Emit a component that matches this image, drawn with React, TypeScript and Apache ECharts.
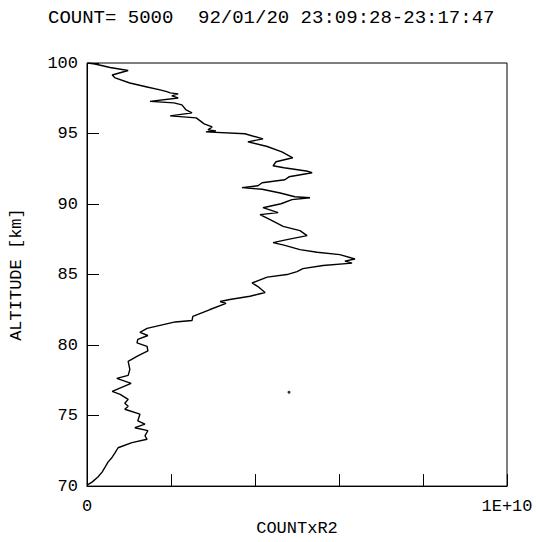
import React, { useEffect, useRef } from "react";
import * as echarts from "echarts";

// COUNT x R^2 in units of 1E9 (top to bottom)
const countR2E9: number[] = [
  0.02, 0.19, 0.55, 0.98, 0.6, 0.67, 1.02, 1.43, 1.74, 1.9, 1.98, 2.17, 2.02, 2.17, 1.5, 2.07, 2.26, 2.36, 2.5, 1.98,
  2.6, 2.79, 2.98, 2.88, 3.07, 2.83, 3.76, 4.19, 3.83, 4.29, 4.64, 4.9, 4.5, 4.43, 4.69, 5.26, 5.36, 4.81, 4.71, 4.17,
  4.07, 3.69, 4.17, 4.6, 4.95, 5.31, 4.88, 4.62, 4.19, 4.55, 4.12, 4.36, 4.67, 5.07, 5.24, 4.76, 4.43, 4.69, 5.07, 5.48,
  6.02, 6.38, 6.14, 6.31, 5.62, 5.14, 5.0, 4.76, 4.29, 3.93, 4.07, 4.24, 3.88, 3.4, 3.17, 3.31, 2.93, 2.52, 2.5, 2.1,
  1.43, 1.26, 1.45, 1.21, 1.19, 1.43, 1.45, 1.21, 0.98, 1.02, 0.98, 0.71, 1.05, 0.6, 0.79, 0.98, 0.9, 0.98, 0.9, 1.26,
  1.21, 1.38, 1.14, 1.45, 1.38, 1.43, 1.07, 0.74, 0.67, 0.6, 0.5, 0.43, 0.36, 0.26, 0.12, 0.0,
];
const altitudeKm: number[] = [
  100.0, 99.93, 99.68, 99.47, 99.15, 98.94, 98.58, 98.3, 98.09, 97.97, 97.88, 97.81, 97.67, 97.52, 97.28, 97.17, 97.03,
  96.67, 96.46, 96.25, 96.11, 95.68, 95.47, 95.26, 95.19, 95.12, 94.98, 94.62, 94.41, 94.08, 93.7, 93.28, 93.0, 92.71,
  92.57, 92.32, 92.22, 91.93, 91.72, 91.51, 91.3, 91.16, 91.05, 90.78, 90.52, 90.45, 90.31, 90.02, 89.74, 89.39, 89.25,
  88.89, 88.42, 88.11, 87.76, 87.48, 87.26, 87.09, 86.77, 86.58, 86.41, 86.1, 85.95, 85.81, 85.64, 85.42, 85.21, 85.0,
  84.82, 84.4, 84.15, 83.73, 83.46, 83.23, 83.09, 82.95, 82.52, 82.03, 81.74, 81.64, 81.18, 80.9, 80.68, 80.4, 80.15,
  79.91, 79.59, 79.23, 78.84, 78.28, 77.85, 77.64, 77.29, 76.72, 76.51, 76.15, 75.87, 75.66, 75.45, 75.1, 74.63, 74.39,
  74.14, 73.93, 73.57, 73.32, 73.08, 72.72, 72.37, 72.05, 71.7, 71.34, 70.99, 70.64, 70.28, 70.07,
];
// stray dot on the plot
const strayDot: number[][] = [[4.81, 76.65]];

const yTicks = { min: 70, max: 100, interval: 5 };
const xTicks = { min: 0, max: 10, interval: 2 };
const titleLeft = "COUNT= 5000";
const titleRight = "92/01/20 23:09:28-23:17:47";
const xName = "COUNTxR2";
const yName = "ALTITUDE [km]";

const FONT = "'Liberation Mono', 'DejaVu Sans Mono', monospace";

export default function App() {
  const ref = useRef<HTMLDivElement>(null);
  useEffect(() => {
    if (!ref.current) return;
    const chart = echarts.init(ref.current, undefined, { renderer: "svg" });
    const data = altitudeKm.map((a, i) => [countR2E9[i], a]);
    chart.setOption({
      animation: false,
      backgroundColor: "#fff",
      graphic: [
        {
          type: "text",
          left: 48,
          top: 8,
          style: { text: titleLeft, fill: "#000", font: `19px ${FONT}` },
        },
        {
          type: "text",
          left: 198,
          top: 8,
          style: { text: titleRight, fill: "#000", font: `19px ${FONT}` },
        },
      ],
      grid: {
        left: 87,
        right: 29,
        top: 63,
        bottom: 55,
        show: true,
        borderColor: "#000",
        borderWidth: 1,
        backgroundColor: "transparent",
      },
      xAxis: {
        type: "value",
        min: xTicks.min,
        max: xTicks.max,
        interval: xTicks.interval,
        name: xName,
        nameLocation: "middle",
        nameGap: 30,
        nameTextStyle: { color: "#000", fontFamily: FONT, fontSize: 17 },
        axisLine: { lineStyle: { color: "#000", width: 1 } },
        axisTick: { inside: true, length: 12, lineStyle: { color: "#000", width: 1 } },
        axisLabel: {
          color: "#000",
          fontFamily: FONT,
          fontSize: 17,
          margin: 12,
          showMaxLabel: true,
          showMinLabel: true,
          formatter: (v: number) => (v === 0 ? "0" : v === 10 ? "1E+10" : ""),
        },
        splitLine: { show: false },
      },
      yAxis: {
        type: "value",
        min: yTicks.min,
        max: yTicks.max,
        interval: yTicks.interval,
        name: yName,
        nameLocation: "middle",
        nameGap: 62,
        nameTextStyle: { color: "#000", fontFamily: FONT, fontSize: 17 },
        axisLine: { lineStyle: { color: "#000", width: 1 } },
        axisTick: { inside: true, length: 12, lineStyle: { color: "#000", width: 1 } },
        axisLabel: { color: "#000", fontFamily: FONT, fontSize: 17, margin: 9 },
        splitLine: { show: false },
      },
      series: [
        {
          type: "line",
          data,
          showSymbol: false,
          symbol: "none",
          lineStyle: { color: "#000", width: 1.4 },
        },
        {
          type: "scatter",
          data: strayDot,
          symbolSize: 3,
          itemStyle: { color: "#000" },
        },
      ],
    });
    return () => chart.dispose();
  }, []);
  return (
    <div
      ref={ref}
      style={{ position: "fixed", left: 0, top: 0, width: 536, height: 542, background: "#fff" }}
    />
  );
}
